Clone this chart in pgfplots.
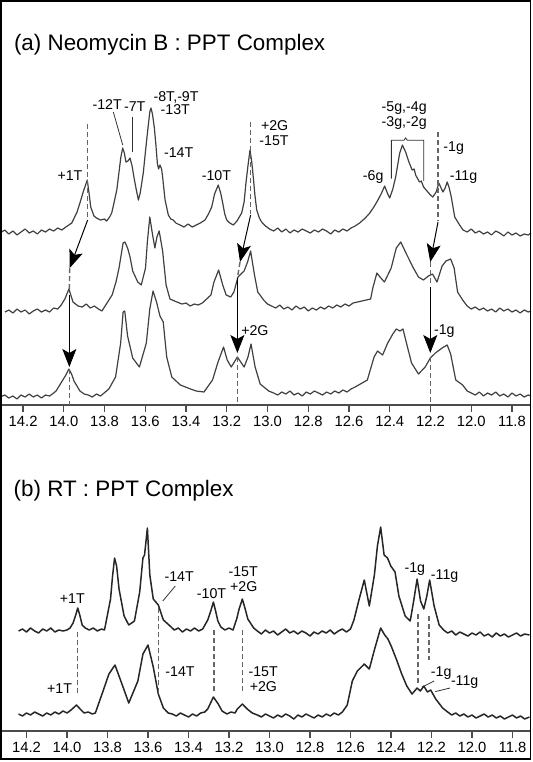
\documentclass[border=0pt]{standalone}
\usepackage{fontspec}
\setmainfont{Liberation Sans}
\usepackage{pgfplots}
\pgfplotsset{compat=1.18}
\usetikzlibrary{arrows.meta}

\pgfplotsset{
  nmr/.style={
    scale only axis, width=265.5pt, x dir=reverse, clip=false,
    axis x line=bottom, axis y line=none,
    x axis line style={-, line width=0.8pt, black!70},
    xtick={11.8,12.0,12.2,12.4,12.6,12.8,13.0,13.2,13.4,13.6,13.8,14.0,14.2},
    xtick align=outside, major tick length=3.5pt,
    xtick style={line width=0.6pt, black!70},
    xticklabel style={font=\fontsize{7.4}{8}\selectfont, inner sep=1.8pt},
    xticklabel={\pgfmathprintnumber[fixed,fixed zerofill,precision=1,assume math mode=true]{\tick}},
  },
  spa/.style={black!75, line width=0.6pt, line join=round},
  spb/.style={black!85, line width=0.75pt, line join=round},
}

\begin{document}
\begin{tikzpicture}[
  lab/.style={font=\fontsize{7.1}{8}\selectfont, inner sep=0pt},
  dsh/.style={draw=black!60, line width=0.7pt, dash pattern=on 2.5pt off 1.5pt},
  arr/.style={draw=black, line width=0.5pt, -{Stealth[length=9pt,width=7pt,inset=2pt]}},
  ldr/.style={draw=black!80, line width=0.4pt},
]
\path[use as bounding box] (0pt,0pt) rectangle (266.5pt,-381pt);

% ---------------- (a) Neomycin B : PPT Complex
\begin{axis}[nmr, at={(0pt,-202.5pt)}, anchor=south west,
  height=155pt, xmin=11.7066, xmax=14.3134, ymin=2, ymax=312]

\addplot[spa] coordinates {
(14.313,174)(14.29,177)(14.27,173)(14.25,176)(14.23,172)(14.21,175)(14.19,178)(14.17,174)(14.15,176)(14.13,173)(14.11,177)(14.09,175)(14.07,178)(14.05,176)(14.03,179)(14.01,177)(13.99,180)(13.961,184)(13.935,195)(13.921,204)(13.905,215)(13.885,227)(13.875,212)(13.868,200)(13.852,191)(13.84,189)(13.82,187)(13.80,188)(13.79,186)(13.775,190)(13.765,194)(13.755,203)(13.74,217)(13.72,250)(13.711,259)(13.703,254)(13.695,245)(13.685,246)(13.675,249)(13.665,241)(13.656,230)(13.645,218)(13.634,207)(13.625,214)(13.61,234)(13.598,258)(13.588,277)(13.578,295)(13.572,299)(13.565,293)(13.556,280)(13.548,262)(13.541,244)(13.535,238)(13.528,242)(13.52,238)(13.515,230)(13.503,207)(13.487,192)(13.475,188)(13.463,187)(13.45,184)(13.43,182)(13.41,180)(13.39,183)(13.37,180)(13.35,182)(13.33,184)(13.307,187)(13.29,193)(13.274,200)(13.26,213)(13.242,222)(13.23,214)(13.22,204)(13.21,193)(13.2,187)(13.185,184)(13.168,182)(13.15,186)(13.127,194)(13.115,205)(13.106,224)(13.095,243)(13.086,257)(13.078,246)(13.07,230)(13.062,212)(13.053,197)(13.04,189)(13.029,185)(13.01,181)(12.99,178)(12.97,176)(12.95,179)(12.93,175)(12.91,178)(12.89,174)(12.87,177)(12.85,175)(12.83,178)(12.81,176)(12.79,174)(12.77,177)(12.75,175)(12.73,178)(12.71,176)(12.69,173)(12.67,177)(12.65,175)(12.63,178)(12.61,176)(12.59,179)(12.57,181)(12.548,184)(12.52,189)(12.498,194)(12.475,201)(12.458,207)(12.44,214)(12.425,221)(12.41,213)(12.40,209)(12.385,218)(12.371,230)(12.351,254)(12.338,262)(12.322,255)(12.306,245)(12.29,237)(12.28,238)(12.273,232)(12.254,225)(12.245,226)(12.234,220)(12.213,215)(12.2,212)(12.189,210)(12.172,215)(12.159,224)(12.148,219)(12.139,215)(12.128,219)(12.118,225)(12.108,219)(12.098,210)(12.081,190)(12.057,182)(12.04,177)(12.02,175)(12.00,178)(11.98,174)(11.96,176)(11.94,173)(11.92,175)(11.90,172)(11.88,176)(11.86,174)(11.84,171)(11.82,175)(11.80,172)(11.78,174)(11.76,171)(11.74,173)(11.72,172)(11.707,174)
};
\addplot[spa] coordinates {
(14.289,95)(14.27,97)(14.25,94)(14.23,98)(14.21,95)(14.19,97)(14.17,93)(14.15,96)(14.13,98)(14.11,95)(14.09,97)(14.07,95)(14.05,99)(14.03,98)(14.013,102)(13.995,108)(13.975,118)(13.955,105)(13.93,101)(13.91,100)(13.89,103)(13.87,99)(13.85,101)(13.83,98)(13.813,96)(13.763,112)(13.744,125)(13.729,139)(13.709,164)(13.700,165)(13.687,159)(13.675,150)(13.662,136)(13.637,125)(13.62,122)(13.599,139)(13.59,165)(13.578,190)(13.565,173)(13.553,159)(13.543,170)(13.532,176)(13.515,156)(13.498,122)(13.479,108)(13.445,105)(13.42,103)(13.40,104)(13.38,101)(13.36,103)(13.34,102)(13.32,104)(13.278,112)(13.263,125)(13.24,137)(13.22,122)(13.203,112)(13.181,110)(13.165,115)(13.145,130)(13.115,136)(13.098,145)(13.083,156)(13.064,132)(13.048,115)(13.019,107)(13.00,103)(12.98,101)(12.96,99)(12.94,102)(12.92,98)(12.90,100)(12.88,97)(12.86,101)(12.84,98)(12.82,100)(12.80,96)(12.78,99)(12.76,97)(12.74,100)(12.72,98)(12.70,101)(12.68,99)(12.66,102)(12.64,100)(12.62,103)(12.60,101)(12.58,104)(12.494,108)(12.482,120)(12.463,134)(12.448,130)(12.426,125)(12.393,139)(12.368,159)(12.346,165)(12.318,153)(12.284,139)(12.259,130)(12.235,127)(12.21,131)(12.19,133)(12.168,125)(12.143,141)(12.124,146)(12.101,148)(12.084,139)(12.067,115)(12.042,107)(12.02,101)(12.00,98)(11.98,100)(11.96,97)(11.94,99)(11.92,96)(11.90,98)(11.88,95)(11.86,99)(11.84,96)(11.82,98)(11.80,95)(11.78,97)(11.76,94)(11.74,97)(11.72,95)(11.707,96)
};
\addplot[spa] coordinates {
(14.313,10)(14.29,12)(14.27,9)(14.25,11)(14.23,8)(14.21,12)(14.19,10)(14.17,13)(14.15,10)(14.13,12)(14.11,9)(14.09,12)(14.07,11)(14.05,14)(14.038,16)(14.005,27)(13.99,32)(13.975,38)(13.962,33)(13.95,26)(13.921,16)(13.90,13)(13.88,12)(13.86,10)(13.84,13)(13.82,11)(13.779,18)(13.746,30)(13.721,64)(13.709,95)(13.701,96)(13.687,71)(13.662,49)(13.629,40)(13.595,64)(13.578,98)(13.562,116)(13.545,105)(13.528,91)(13.512,85)(13.495,50)(13.47,30)(13.428,22)(13.378,18)(13.35,16)(13.312,15)(13.27,27)(13.243,45)(13.216,60)(13.198,47)(13.178,40)(13.148,50)(13.115,40)(13.096,50)(13.081,63)(13.061,40)(13.036,23)(12.994,16)(12.97,14)(12.95,12)(12.93,15)(12.91,13)(12.89,16)(12.87,12)(12.85,14)(12.83,11)(12.81,15)(12.79,13)(12.77,16)(12.75,14)(12.73,12)(12.71,15)(12.69,13)(12.67,16)(12.65,14)(12.63,17)(12.61,15)(12.59,18)(12.57,20)(12.51,27)(12.477,50)(12.46,56)(12.435,52)(12.41,64)(12.385,73)(12.368,78)(12.35,76)(12.335,78)(12.318,64)(12.293,44)(12.259,33)(12.226,40)(12.201,49)(12.176,54)(12.143,59)(12.118,62)(12.101,53)(12.076,27)(12.042,22)(12.02,16)(12.00,14)(11.98,12)(11.96,15)(11.94,11)(11.92,14)(11.90,12)(11.88,15)(11.86,11)(11.84,13)(11.82,10)(11.80,14)(11.78,11)(11.76,13)(11.74,10)(11.72,12)(11.707,11)
};

% shift lines and arrows
\draw[dsh] (13.883,283) -- (13.883,188);
\draw[arr] (13.883,187) -- (13.971,139);
\draw[dsh] (13.971,139) -- (13.973,118);
\draw[arr] (13.973,112) -- (13.973,40);
\draw[dsh] (13.973,38) -- (13.973,2);
\draw[dsh] (13.083,285) -- (13.083,193);
\draw[arr] (13.083,192) -- (13.135,145);
\draw[dsh] (13.135,145) -- (13.148,129);
\draw[arr] (13.148,129) -- (13.148,54);
\draw[dsh] (13.148,50) -- (13.148,2);
\draw[dsh] (12.163,275) -- (12.163,186);
\draw[arr] (12.163,185) -- (12.201,145);
\draw[dsh] (12.201,145) -- (12.201,121);
\draw[arr] (12.201,120) -- (12.201,54);
\draw[dsh] (12.201,50) -- (12.201,2);

% labels
\node[lab, anchor=base] at (13.970,226.8) {+1T};
\node[lab, anchor=base] at (13.787,297.5) {-12T};
\node[lab, anchor=base] at (13.652,295.1) {-7T};
\node[lab, anchor=base] at (13.449,305.4) {-8T,-9T};
\node[lab, anchor=base] at (13.453,292.5) {-13T};
\node[lab, anchor=base] at (13.436,249.1) {-14T};
\node[lab, anchor=base] at (13.251,226.8) {-10T};
\node[lab, anchor=base] at (12.965,276.5) {+2G};
\node[lab, anchor=base] at (12.968,261.2) {-15T};
\node[lab, anchor=base] at (12.329,295.1) {-5g,-4g};
\node[lab, anchor=base] at (12.329,280.1) {-3g,-2g};
\node[lab, anchor=base] at (12.086,255.1) {-1g};
\node[lab, anchor=base] at (12.481,226.1) {-6g};
\node[lab, anchor=base] at (12.038,226.1) {-11g};
\node[lab, anchor=base] at (13.062,71.4) {+2G};
\node[lab, anchor=base] at (12.132,72.4) {-1g};
\draw[ldr] (13.757,295) -- (13.711,262);
\draw[ldr] (13.662,290) -- (13.662,255);
\draw[ldr] (12.392,228.5) -- (12.392,266.8) -- (12.33,266.8) -- (12.322,269.1) -- (12.314,266.8) -- (12.233,266.8) -- (12.233,226.1);
\end{axis}

% ---------------- (b) RT : PPT Complex
\begin{axis}[nmr, at={(0pt,-365.5pt)}, anchor=south west,
  height=120pt, xmin=11.7086, xmax=14.3309, ymin=0, ymax=240]

\addplot[spb] coordinates {
(14.239,100)(14.22,102)(14.20,99)(14.18,103)(14.16,100)(14.14,98)(14.12,102)(14.10,100)(14.08,103)(14.06,99)(14.04,101)(14.02,100)(14.00,101)(13.985,103)(13.97,108)(13.957,116)(13.947,123)(13.937,116)(13.925,106)(13.91,103)(13.89,101)(13.87,103)(13.85,100)(13.83,102)(13.815,101)(13.81,106)(13.785,132)(13.775,155)(13.765,173)(13.755,165)(13.743,142)(13.718,115)(13.695,106)(13.667,110)(13.641,139)(13.625,173)(13.617,176)(13.603,203)(13.591,156)(13.574,132)(13.549,126)(13.524,111)(13.491,105)(13.47,101)(13.45,103)(13.43,99)(13.41,102)(13.39,100)(13.37,103)(13.35,100)(13.33,102)(13.305,111)(13.29,120)(13.277,129)(13.266,120)(13.255,110)(13.24,104)(13.22,101)(13.20,103)(13.18,101)(13.162,112)(13.15,122)(13.134,132)(13.12,122)(13.107,112)(13.078,103)(13.06,100)(13.04,97)(13.02,101)(13.00,98)(12.98,100)(12.96,96)(12.94,99)(12.92,102)(12.90,98)(12.88,100)(12.86,97)(12.84,100)(12.82,98)(12.80,95)(12.78,99)(12.76,97)(12.74,100)(12.72,98)(12.70,101)(12.68,97)(12.66,100)(12.64,102)(12.62,99)(12.60,102)(12.583,111)(12.557,132)(12.532,151)(12.507,125)(12.482,156)(12.467,185)(12.451,204)(12.434,176)(12.417,173)(12.401,165)(12.38,159)(12.361,135)(12.33,115)(12.305,110)(12.288,130)(12.271,152)(12.254,130)(12.238,122)(12.223,135)(12.209,151)(12.187,125)(12.162,106)(12.14,101)(12.12,98)(12.10,100)(12.08,96)(12.06,99)(12.04,97)(12.02,95)(12.00,98)(11.98,96)(11.96,99)(11.94,95)(11.92,97)(11.90,94)(11.88,98)(11.86,95)(11.84,97)(11.82,94)(11.80,96)(11.78,98)(11.76,95)(11.74,97)(11.716,96)
};
\addplot[spb] coordinates {
(14.239,17)(14.22,15)(14.20,18)(14.18,16)(14.16,19)(14.14,17)(14.12,15)(14.10,18)(14.08,16)(14.06,19)(14.04,17)(14.02,20)(14.00,18)(13.98,21)(13.953,26)(13.935,22)(13.915,18)(13.895,19)(13.875,17)(13.86,18)(13.827,37)(13.793,57)(13.763,66)(13.734,50)(13.695,28)(13.65,50)(13.625,77)(13.6,86)(13.574,64)(13.549,37)(13.524,23)(13.5,18)(13.48,17)(13.46,15)(13.44,18)(13.42,16)(13.40,14)(13.38,17)(13.36,15)(13.34,18)(13.32,19)(13.305,22)(13.277,34)(13.253,27)(13.234,20)(13.21,17)(13.19,19)(13.17,18)(13.159,22)(13.134,27)(13.11,22)(13.085,18)(13.06,16)(13.04,14)(13.02,17)(13.00,15)(12.98,13)(12.96,16)(12.94,14)(12.92,17)(12.90,15)(12.88,12)(12.86,16)(12.84,14)(12.82,17)(12.80,15)(12.78,13)(12.76,16)(12.74,14)(12.72,17)(12.70,15)(12.68,18)(12.66,16)(12.64,19)(12.616,26)(12.591,50)(12.566,60)(12.546,64)(12.532,67)(12.507,62)(12.482,81)(12.451,103)(12.431,96)(12.415,92)(12.397,84)(12.372,71)(12.347,57)(12.322,45)(12.296,37)(12.271,43)(12.255,40)(12.238,45)(12.22,39)(12.204,41)(12.179,32)(12.145,23)(12.12,19)(12.10,16)(12.08,18)(12.06,15)(12.04,17)(12.02,14)(12.00,16)(11.98,13)(11.96,15)(11.94,17)(11.92,14)(11.90,16)(11.88,13)(11.86,15)(11.84,12)(11.82,14)(11.80,16)(11.78,13)(11.76,15)(11.74,12)(11.716,14)
};

\draw[dsh] (13.947,99) -- (13.947,37);
\draw[dsh] (13.549,123) -- (13.549,38);
\draw[dsh] (13.275,101) -- (13.275,37);
\draw[dsh] (13.134,101) -- (13.134,37);
\draw[dsh] (12.266,117) -- (12.266,47);
\draw[dsh] (12.212,115) -- (12.212,71);

\node[lab, anchor=base] at (13.974,127.5) {+1T};
\node[lab, anchor=base] at (13.446,149.6) {-14T};
\draw[ldr] (13.465,145) -- (13.527,130);
\node[lab, anchor=base] at (13.286,133) {-10T};
\node[lab, anchor=base] at (13.130,154.7) {-15T};
\node[lab, anchor=base] at (13.127,139.4) {+2G};
\node[lab, anchor=base] at (12.282,158.5) {-1g};
\node[lab, anchor=base] at (12.135,151.7) {-11g};
\node[lab, anchor=base] at (14.037,37.4) {+1T};
\node[lab, anchor=base] at (13.442,54.8) {-14T};
\node[lab, anchor=base] at (13.031,54.4) {-15T};
\node[lab, anchor=base] at (13.030,39.1) {+2G};
\node[lab, anchor=base] at (12.152,54.4) {-1g};
\draw[ldr] (12.187,50) -- (12.246,44);
\node[lab, anchor=base] at (12.036,45.2) {-11g};
\draw[ldr] (12.108,43) -- (12.181,39.4);
\end{axis}

\node[anchor=base west, inner sep=0pt, font=\fontsize{11.2}{13}\selectfont] at (6.8pt,-25pt) {(a) Neomycin B : PPT Complex};
\node[anchor=base west, inner sep=0pt, font=\fontsize{11.2}{13}\selectfont] at (6.65pt,-248pt) {(b) RT : PPT Complex};
\draw[line width=0.75pt] (0.5pt,-0.5pt) rectangle (265.35pt,-379.5pt);
\end{tikzpicture}
\end{document}
